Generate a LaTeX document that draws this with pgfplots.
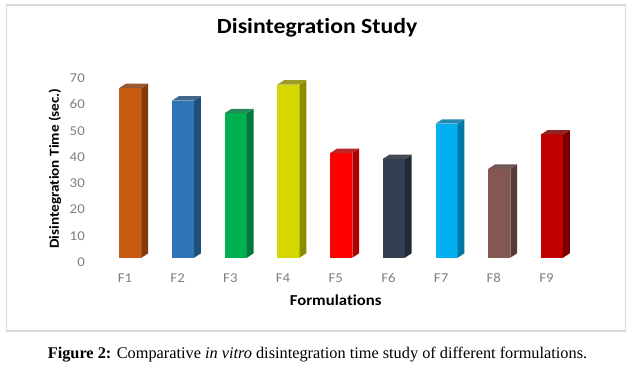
\documentclass[border=0pt]{standalone}
\usepackage{fontspec}
\setmainfont{Carlito}[FakeStretch=1.1,Ligatures={NoCommon}]
\newfontfamily\capfont{Liberation Serif}
\usepackage{pgfplots}
\pgfplotsset{compat=1.18}

\definecolor{tickgray}{HTML}{7F7F7F}
\definecolor{framegray}{HTML}{D9D9D9}
\definecolor{c1}{HTML}{C55A11}\definecolor{s1}{HTML}{843C0C}
\definecolor{c2}{HTML}{2E75B6}\definecolor{s2}{HTML}{1F4E79}
\definecolor{c3}{HTML}{00B050}\definecolor{s3}{HTML}{00783A}
\definecolor{c4}{HTML}{D6D600}\definecolor{s4}{HTML}{8C8C00}
\definecolor{c5}{HTML}{FF0000}\definecolor{s5}{HTML}{B00000}
\definecolor{c6}{HTML}{333F50}\definecolor{s6}{HTML}{222A35}
\definecolor{c7}{HTML}{00B0F0}\definecolor{s7}{HTML}{0077A6}
\definecolor{c8}{HTML}{845850}\definecolor{s8}{HTML}{573A35}
\definecolor{c9}{HTML}{C00000}\definecolor{s9}{HTML}{7A0000}

% #1 category position, #2 value, #3 front colour, #4 side/top colour
\newcommand\cubebar[4]{%
  \pgfmathsetmacro\xl{#1-0.21}%
  \pgfmathsetmacro\xr{#1+0.21}%
  \pgfmathsetmacro\xd{#1+0.21+0.127}%
  \pgfmathsetmacro\xld{#1-0.21+0.127}%
  \pgfmathsetmacro\vt{#2+1.67}%
  \edef\tmp{%
    \noexpand\addplot[fill=#3,draw=none] coordinates {(\xl,0) (\xr,0) (\xr,#2) (\xl,#2)} -- cycle;
    \noexpand\addplot[fill=#4,draw=none] coordinates {(\xr,0) (\xd,1.67) (\xd,\vt) (\xr,#2)} -- cycle;
    \noexpand\addplot[fill=#4!85!white,draw=none] coordinates {(\xl,#2) (\xr,#2) (\xd,\vt) (\xld,\vt)} -- cycle;
  }\tmp}

\begin{document}
\begin{tikzpicture}[x=1pt,y=1pt]
\path[use as bounding box] (0,0) rectangle (640,367);
\draw[framegray,line width=1.5pt] (6.7,36) rectangle (625.7,362);
\begin{axis}[
  at={(93.6pt,109.3pt)}, anchor=south west,
  scale only axis, width=495.3pt, height=197.1pt,
  xmin=0.3, xmax=9.7, ymin=0, ymax=75,
  clip=false,
  axis line style={draw=none},
  tick style={draw=none},
  xtick={1,2,3,4,5,6,7,8,9},
  xticklabels={F1,F2,F3,F4,F5,F6,F7,F8,F9},
  ytick={0,10,20,30,40,50,60,70},
  /pgf/number format/assume math mode=true,
  ticklabel style={font=\fontsize{13.5}{15}\selectfont, text=tickgray},
  yticklabel style={anchor=east, inner sep=0pt, xshift=-8.6pt, yshift=-4.4pt},
  xticklabel style={anchor=base, inner sep=0pt, yshift=-25.3pt, xshift=-5.5pt},
  title={Disintegration Study},
  title style={at={(axis description cs:0.4514,1.108)}, anchor=base, inner sep=0pt,
    font=\bfseries\fontsize{21.6}{24}\selectfont},
  xlabel={Formulations},
  xlabel style={at={(axis description cs:0.4888,-0.240)}, anchor=base, inner sep=0pt,
    font=\bfseries\fontsize{15.2}{18}\selectfont},
  ylabel={Disintegration Time (sec.)},
  ylabel style={at={(axis description cs:-0.0699,0.4526)}, anchor=base, inner sep=0pt, rotate=0,
    font=\bfseries\fontsize{13.8}{16}\selectfont},
]
\cubebar{1}{64.6}{c1}{s1}
\cubebar{2}{59.8}{c2}{s2}
\cubebar{3}{55.0}{c3}{s3}
\cubebar{4}{65.9}{c4}{s4}
\cubebar{5}{39.8}{c5}{s5}
\cubebar{6}{37.6}{c6}{s6}
\cubebar{7}{51.0}{c7}{s7}
\cubebar{8}{33.8}{c8}{s8}
\cubebar{9}{46.9}{c9}{s9}
\end{axis}
\node[anchor=base, inner sep=0pt] at (317.5,9) {\capfont\fontsize{16.3}{19}\selectfont\textbf{Figure 2:} Comparative \textit{in vitro} disintegration time study of different formulations.};
\end{tikzpicture}
\end{document}
